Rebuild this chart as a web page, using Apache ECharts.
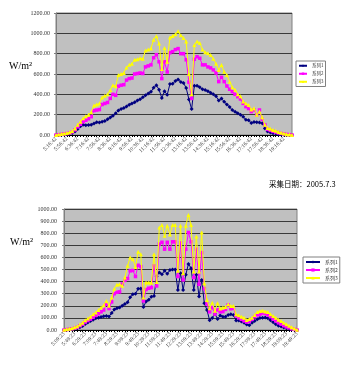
<!DOCTYPE html>
<html><head><meta charset="utf-8">
<script src="https://cdn.jsdelivr.net/npm/echarts@6/dist/echarts.min.js"></script>
<style>html,body{margin:0;padding:0;background:#fff}#c{width:350px;height:374px}</style>
</head><body><div id="c"></div>
<script>
const topTimes = ["5:16:42","5:26:42","5:36:42","5:46:42","5:56:42",
"6:06:42","6:16:42","6:26:42","6:36:42","6:46:42","6:56:42",
"7:06:42","7:16:42","7:26:42","7:36:42","7:46:42","7:56:42",
"8:06:42","8:16:42","8:26:42","8:36:42","8:46:42","8:56:42",
"9:06:42","9:16:42","9:26:42","9:36:42","9:46:42","9:56:42",
"10:06:42","10:16:42","10:26:42","10:36:42","10:46:42","10:56:42",
"11:06:42","11:16:42","11:26:42","11:36:42","11:46:42","11:56:42",
"12:06:42","12:16:42","12:26:42","12:36:42","12:46:42","12:56:42",
"13:06:42","13:16:42","13:26:42","13:36:42","13:46:42","13:56:42",
"14:06:42","14:16:42","14:26:42","14:36:42","14:46:42","14:56:42",
"15:06:42","15:16:42","15:26:42","15:36:42","15:46:42","15:56:42",
"16:06:42","16:16:42","16:26:42","16:36:42","16:46:42","16:56:42",
"17:06:42","17:16:42","17:26:42","17:36:42","17:46:42","17:56:42",
"18:06:42","18:16:42","18:26:42","18:36:42","18:46:42","18:56:42",
"19:06:42","19:16:42","19:26:42","19:36:42","19:46:42"];
const botTimes = ["5:09:23","5:19:23","5:29:23","5:39:23","5:49:23","5:59:23",
"6:09:23","6:19:23","6:29:23","6:39:23","6:49:23","6:59:23",
"7:09:23","7:19:23","7:29:23","7:39:23","7:49:23","7:59:23",
"8:09:23","8:19:23","8:29:23","8:39:23","8:49:23","8:59:23",
"9:09:23","9:19:23","9:29:23","9:39:23","9:49:23","9:59:23",
"10:09:23","10:19:23","10:29:23","10:39:23","10:49:23","10:59:23",
"11:09:23","11:19:23","11:29:23","11:39:23","11:49:23","11:59:23",
"12:09:23","12:19:23","12:29:23","12:39:23","12:49:23","12:59:23",
"13:09:23","13:19:23","13:29:23","13:39:23","13:49:23","13:59:23",
"14:09:23","14:19:23","14:29:23","14:39:23","14:49:23","14:59:23",
"15:09:23","15:19:23","15:29:23","15:39:23","15:49:23","15:59:23",
"16:09:23","16:19:23","16:29:23","16:39:23","16:49:23","16:59:23",
"17:09:23","17:19:23","17:29:23","17:39:23","17:49:23","17:59:23",
"18:09:23","18:19:23","18:29:23","18:39:23","18:49:23","18:59:23",
"19:09:23","19:19:23","19:29:23","19:39:23","19:49:23"];

const seriesNames = ["系列1","系列2","系列3"];

const top1 = [0,1,3,5,8,12,20,35,60,85,
100,95,98,102,112,125,122,130,138,155,
172,190,215,240,255,265,280,298,310,322,
340,352,372,390,408,425,465,489,446,364,
430,395,502,505,530,545,522,512,462,350,
255,485,485,470,450,442,430,415,400,380,
340,358,328,300,275,245,228,215,200,180,
150,145,118,128,125,122,115,65,35,25,
18,14,8,4,2,1,0,0];
const top2 = [0,3,6,10,14,20,30,50,80,105,
130,145,160,180,240,245,250,300,310,320,
360,400,390,480,490,495,540,555,560,600,
605,610,605,670,680,690,760,790,720,555,
720,620,810,820,840,850,800,800,740,520,
360,745,770,755,690,690,670,660,640,610,
525,567,525,482,450,426,400,377,354,311,
279,260,230,246,200,246,154,100,55,45,
35,28,20,15,10,6,3,0];
const top3 = [0,5,10,15,20,28,40,65,100,130,
165,185,200,225,290,300,310,370,385,400,
440,490,480,590,600,610,665,690,700,740,
745,755,750,830,840,850,938,971,900,650,
856,720,960,975,990,1020,980,955,920,600,
400,885,920,905,840,815,803,787,750,700,
640,689,623,590,525,470,445,400,380,330,
311,295,250,262,200,230,175,100,70,62,
50,42,30,22,15,8,4,0];

const bot1 = [0,2,4,6,10,15,22,33,50,63,
75,85,98,102,108,113,116,112,140,170,
180,185,200,215,230,270,295,300,340,342,
190,235,250,275,280,445,475,460,490,465,
495,500,500,330,470,330,456,546,511,331,
456,276,414,221,165,80,100,135,90,120,
110,110,125,130,125,78,78,70,60,45,
40,60,75,88,100,102,104,97,80,65,
48,35,28,20,15,10,6,3,0];
const bot2 = [0,3,6,10,15,22,35,47,65,78,
90,105,120,135,150,165,213,177,232,300,
312,315,380,410,425,489,492,442,535,524,
240,335,345,350,530,364,710,725,668,725,
668,729,729,442,720,414,668,806,729,433,
668,378,640,342,215,150,185,132,166,150,
152,170,207,175,180,116,100,88,75,66,
70,88,110,124,130,140,135,124,110,90,
75,60,48,35,25,18,10,5,0];
const bot3 = [2,6,10,15,22,30,45,60,80,95,
110,130,145,165,185,205,240,200,268,340,
375,378,365,433,530,600,585,520,646,627,
268,392,392,390,627,397,847,867,778,861,
790,867,867,489,861,469,861,950,867,483,
773,483,806,386,248,179,226,160,221,177,
185,190,212,199,199,130,121,110,102,83,
90,102,125,149,157,160,152,149,130,115,
102,85,75,60,47,35,22,12,2];

const colors = ["#000080","#FF00FF","#FFFF00"];
const symbols = ["diamond","rect","triangle"];
const symSizes = [4,3.5,4];

function mkX(idx, data){
  return {gridIndex:idx, type:'category', data:data, boundaryGap:false,
    axisLine:{lineStyle:{color:'#000',width:1}},
    axisTick:{show:true, interval:0, length:2, lineStyle:{color:'#000'}},
    axisLabel:{interval:3, rotate:45, fontSize:5.5, color:'#333', margin:3, fontFamily:'Liberation Serif'},
    splitLine:{show:false}};
}
function mkY(idx, max, step, margin){
  return {gridIndex:idx, type:'value', min:0, max:max, interval:step,
    axisLine:{show:true, lineStyle:{color:'#808080'}},
    axisTick:{show:true, length:2, lineStyle:{color:'#808080'}},
    axisLabel:{fontSize:6, color:'#333', margin:margin, fontFamily:'Liberation Serif',
      formatter:v=>v.toFixed(2)},
    splitLine:{show:true, lineStyle:{color:'#3a3a3a', width:1}}};
}
function mkS(name, i, data, gi){
  return {name:name, type:'line', xAxisIndex:gi, yAxisIndex:gi, data:data,
    showAllSymbol:true, symbol:symbols[i], symbolSize:symSizes[i],
    lineStyle:{color:colors[i], width:1}, itemStyle:{color:colors[i]},
    emphasis:{disabled:true}, animation:false, z: 2+i};
}
const series = [];
[top1,top2,top3].forEach((d,i)=>series.push(mkS(seriesNames[i], i, d, 0)));
[bot1,bot2,bot3].forEach((d,i)=>series.push(mkS(seriesNames[i], i, d, 1)));

const chart = echarts.init(document.getElementById('c'), null, {renderer:'canvas'});
chart.setOption({
  animation:false,
  backgroundColor:'#fff',
  grid:[
    {left:56, top:13, width:236, height:122, show:true, backgroundColor:'#C0C0C0', borderColor:'#808080', borderWidth:1},
    {left:64, top:209, width:233, height:121, show:true, backgroundColor:'#C0C0C0', borderColor:'#808080', borderWidth:1}
  ],
  xAxis:[mkX(0, topTimes), mkX(1, botTimes)],
  yAxis:[mkY(0, 1200, 200, 6), mkY(1, 1000, 100, 7)],
  legend:[
    {data:seriesNames, orient:'vertical', left:296, top:61, itemWidth:8, itemHeight:3, itemGap:3.5,
     padding:[2.5,2], borderColor:'#808080', borderWidth:1, backgroundColor:'#fff',
     textStyle:{fontSize:4.5, color:'#333', fontFamily:'Noto Sans CJK SC'}, selectedMode:false},
    {data:seriesNames, orient:'vertical', left:303, top:257, itemWidth:14, itemHeight:4, itemGap:3,
     padding:[2.5,2], borderColor:'#808080', borderWidth:1, backgroundColor:'#fff',
     textStyle:{fontSize:5, color:'#333', fontFamily:'Noto Sans CJK SC'}, selectedMode:false}
  ],
  graphic:[
    {type:'text', left:9, top:61, style:{text:'W/m²', fontSize:10, fill:'#000', fontFamily:'Liberation Serif'}},
    {type:'text', left:10, top:237, style:{text:'W/m²', fontSize:10, fill:'#000', fontFamily:'Liberation Serif'}},
    {type:'text', left:269, top:180, style:{text:'采集日期：2005.7.3', fontSize:7.5, fill:'#000', fontFamily:'Noto Sans CJK SC'}}
  ],
  series:series
});
</script>
</body></html>
